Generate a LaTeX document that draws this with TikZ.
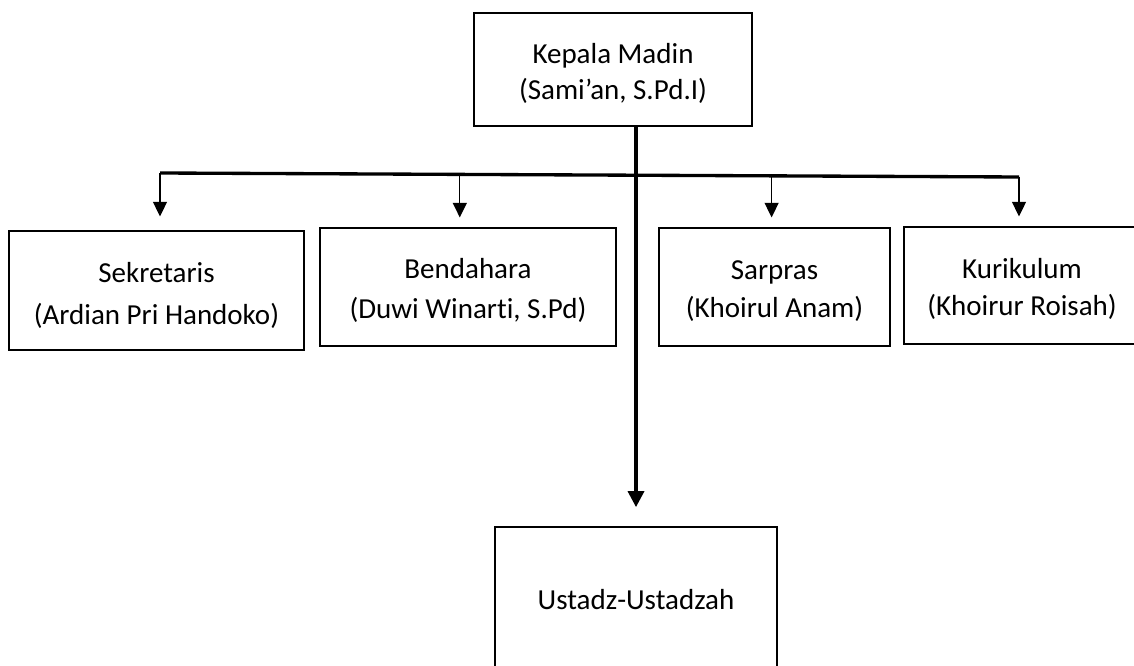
\documentclass[tikz,border=0pt]{standalone}
\usepackage{fontspec}
\setmainfont{Carlito}[Ligatures=NoCommon]
\usetikzlibrary{arrows.meta,calc}
\newcommand\firstup{\rule{0pt}{0.95em}}
\begin{document}
\begin{tikzpicture}[x=0.75pt,y=-0.75pt,
  box/.style={draw=black,line width=1.8pt,rectangle,inner sep=0pt,align=center,
    font=\fontsize{21.75pt}{30pt}\selectfont},
  thickline/.style={line width=2.5pt},
  thinarr/.style={line width=1pt,-{Triangle[width=10.5pt,length=11pt]}},
  mainarr/.style={line width=2.5pt,-{Triangle[width=12pt,length=12pt]}}]
\clip (0,0) rectangle (1134,666);
\node[box,minimum width=208.5pt,minimum height=84.75pt,font=\fontsize{21.75pt}{27pt}\selectfont] (top) at (613,69.5) {\firstup Kepala Madin\\(Sami’an, S.Pd.I)};
\node[box,minimum width=221.25pt,minimum height=89.25pt,font=\fontsize{21.75pt}{31.5pt}\selectfont] (sek) at (156.5,290.5) {\rule{0pt}{1.05em}Sekretaris\\(Ardian Pri Handoko)};
\node[box,minimum width=222pt,minimum height=88.5pt] (ben) at (468,287) {\firstup Bendahara\\(Duwi Winarti, S.Pd)};
\node[box,minimum width=173.25pt,minimum height=88.5pt,font=\fontsize{21.75pt}{28.5pt}\selectfont] (sar) at (774.5,287) {\firstup Sarpras\\(Khoirul Anam)};
\node[box,minimum width=177pt,minimum height=87.75pt,font=\fontsize{21.75pt}{27.75pt}\selectfont] (kur) at (1022,285.5) {\firstup Kurikulum\\(Khoirur Roisah)};
\node[box,minimum width=211.5pt,minimum height=109.5pt] (ust) at (636,600) {Ustadz-Ustadzah};
\coordinate (hl) at (160,173);
\coordinate (hr) at (1019,177);
\draw[thickline] (hl) -- (hr);
\coordinate (a1) at (hl);
\coordinate (a2) at ($(hl)!0.349!(hr)$);
\coordinate (a3) at ($(hl)!0.712!(hr)$);
\coordinate (a4) at (hr);
\draw[thinarr,shorten >=10pt] (a1) -- (a1 |- sek.north);
\draw[thinarr,shorten >=7pt] (a2) -- (a2 |- ben.north);
\draw[thinarr,shorten >=7pt] (a3) -- (a3 |- sar.north);
\draw[thinarr,shorten >=7pt] (a4) -- (a4 |- kur.north);
\draw[mainarr,shorten >=14pt] (ust.north |- top.south) -- (ust.north);
\end{tikzpicture}
\end{document}
